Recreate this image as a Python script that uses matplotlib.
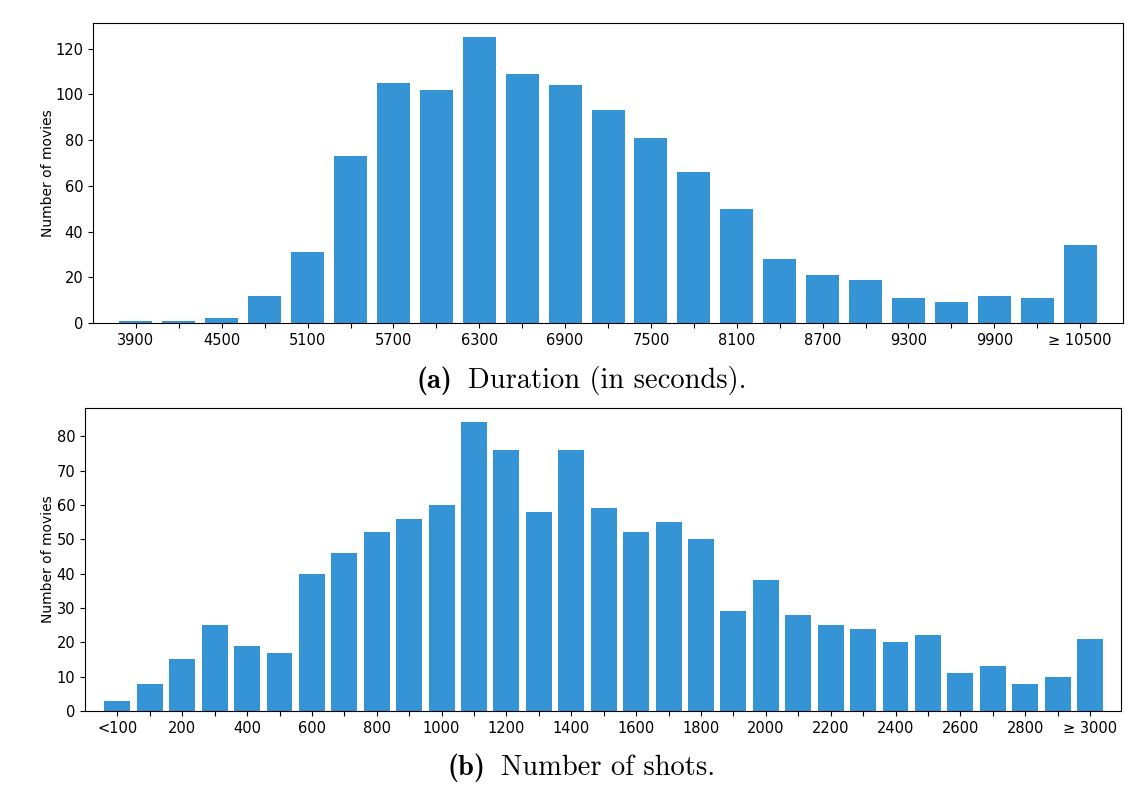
import numpy as np
import matplotlib
matplotlib.use('Agg')
import matplotlib.pyplot as plt

# (a) duration bins, every 300 s
dur_bins = [3900, 4200, 4500, 4800, 5100, 5400, 5700, 6000, 6300, 6600, 6900, 7200,
            7500, 7800, 8100, 8400, 8700, 9000, 9300, 9600, 9900, 10200, 10500]
dur_counts = [1, 1, 2, 12, 31, 73, 105, 102, 125, 109, 104, 93,
              81, 66, 50, 28, 21, 19, 11, 9, 12, 11, 34]

# (b) number of shots bins, every 100
shot_bins = list(range(0, 3100, 100))
shot_counts = [3, 8, 15, 25, 19, 17, 40, 46, 52, 56, 60, 84, 76, 58, 76, 59,
               52, 55, 50, 29, 38, 28, 25, 24, 20, 22, 11, 13, 8, 10, 21]

captions = [('(a)', 'Duration (in seconds).'), ('(b)', 'Number of shots.')]

color = '#3594d6'

fig = plt.figure(figsize=(11.47, 7.96), dpi=100)

# top panel
ax1 = fig.add_axes([0.0811, 0.5942, 0.898, 0.3769])
x1 = np.arange(len(dur_bins))
ax1.bar(x1, dur_counts, width=0.77, color=color)
labels1 = []
for i, b in enumerate(dur_bins):
    if i % 2 == 0:
        labels1.append(str(b))
    else:
        labels1.append('')
labels1[-1] = '≥ ' + str(dur_bins[-1])
ax1.set_xticks(x1)
ax1.set_xticklabels(labels1, fontsize=10.5)
ax1.tick_params(axis='y', labelsize=10.5)
ax1.set_xlim(-1, len(dur_bins))
ax1.set_ylabel('Number of movies', fontsize=10)
ax1.yaxis.set_label_coords(-0.037, 0.5)

# bottom panel
ax2 = fig.add_axes([0.0741, 0.1068, 0.9028, 0.3806])
x2 = np.arange(len(shot_bins))
ax2.bar(x2, shot_counts, width=0.8, color=color)
labels2 = []
for i, b in enumerate(shot_bins):
    if i % 2 == 0:
        labels2.append(str(b))
    else:
        labels2.append('')
labels2[0] = '<100'
labels2[-1] = '≥ ' + str(shot_bins[-1])
ax2.set_xticks(x2)
ax2.set_xticklabels(labels2, fontsize=10.5)
ax2.tick_params(axis='y', labelsize=10.5)
ax2.set_xlim(-1, len(shot_bins) - 0.06)
ax2.set_ylabel('Number of movies', fontsize=10)
ax2.yaxis.set_label_coords(-0.029, 0.5)

# captions: bold tag + roman text, centred as one line
renderer = fig.canvas.get_renderer()
gap = 15  # px
for (tag, txt), yc in zip(captions, [0.512, 0.026]):
    t1 = fig.text(0, yc, tag, fontfamily='cmb10', fontsize=20.5, va='baseline')
    t2 = fig.text(0, yc, txt, fontfamily='cmr10', fontsize=20.5, va='baseline')
    w1 = t1.get_window_extent(renderer).width
    w2 = t2.get_window_extent(renderer).width
    W = fig.bbox.width
    x0 = 0.507 * W - (w1 + gap + w2) / 2
    t1.set_x(x0 / W)
    t2.set_x((x0 + w1 + gap) / W)

fig.savefig('out.png', dpi=100)
